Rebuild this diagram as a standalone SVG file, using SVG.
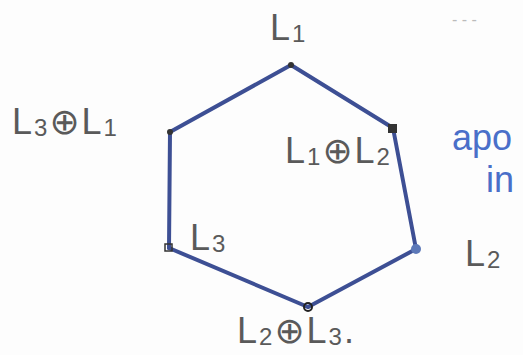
<svg xmlns="http://www.w3.org/2000/svg" width="523" height="355" viewBox="0 0 523 355">
<style>
.lbl{font-family:"Liberation Sans","DejaVu Sans",sans-serif;fill:#5a5a5a;font-size:36px;letter-spacing:2px}
.sub{font-size:24px}
.blue{font-family:"Liberation Sans","DejaVu Sans",sans-serif;fill:#4a6fc9;font-size:36px}
.edge{stroke:#3d4f94;stroke-width:4;stroke-linecap:round;fill:none}
.dot{fill:#333}
</style>
<rect width="523" height="355" fill="#fdfdfd"/>
<g id="connectors">
<line class="edge" x1="291" y1="65" x2="393" y2="128"/>
<line class="edge" x1="393" y1="128" x2="416" y2="249"/>
<line class="edge" x1="416" y1="249" x2="308" y2="307"/>
<line class="edge" x1="308" y1="307" x2="169" y2="248"/>
<line class="edge" x1="169" y1="248" x2="170" y2="132"/>
<line class="edge" x1="170" y1="132" x2="291" y2="65"/>
</g>
<g id="n-L1"><circle class="dot" cx="291" cy="65" r="3"/><text class="lbl" x="270" y="40">L<tspan class="sub" dy="2">1</tspan></text></g>
<g id="n-L1L2"><rect x="388" y="124" width="9" height="9" fill="#333"/><text class="lbl" x="285" y="163">L<tspan class="sub" dy="2">1</tspan><tspan dy="-2">⊕L</tspan><tspan class="sub" dy="2">2</tspan></text></g>
<g id="n-L2"><circle cx="416" cy="249" r="5" fill="#5c78b8"/><text class="lbl" x="465" y="266">L<tspan class="sub" dy="2">2</tspan></text></g>
<g id="n-L2L3"><circle cx="308" cy="307" r="4" fill="none" stroke="#222" stroke-width="2"/><text class="lbl" x="237" y="343">L<tspan class="sub" dy="2">2</tspan><tspan dy="-2">⊕L</tspan><tspan class="sub" dy="2">3</tspan><tspan dy="-2">.</tspan></text></g>
<g id="n-L3"><rect x="165" y="244" width="7" height="7" fill="none" stroke="#333" stroke-width="1.5"/><text class="lbl" x="190" y="250">L<tspan class="sub" dy="2">3</tspan></text></g>
<g id="n-L3L1"><circle class="dot" cx="170" cy="132" r="3"/><text class="lbl" x="12" y="134">L<tspan class="sub" dy="2">3</tspan><tspan dy="-2">⊕L</tspan><tspan class="sub" dy="2">1</tspan></text></g>
<text class="blue" x="452" y="150">apo</text>
<text class="blue" x="486" y="192">in</text>
<text x="452" y="25" font-family="Liberation Sans,sans-serif" font-size="16" fill="#bbb">- - -</text>
</svg>
